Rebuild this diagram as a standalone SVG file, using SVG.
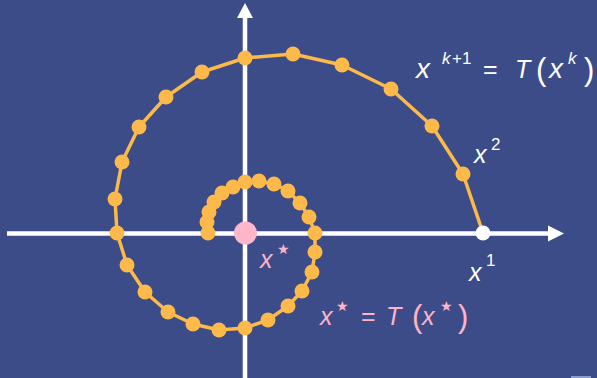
<svg xmlns="http://www.w3.org/2000/svg" width="597" height="378" viewBox="0 0 597 378">
<style>
.ax{stroke:#fff;stroke-width:4.5;fill:none}
.sp{stroke:#FDB94A;stroke-width:3.5;fill:none;stroke-linejoin:round}
.pt{fill:#FDB94A}
.t{font-family:"Liberation Sans","DejaVu Sans",sans-serif;font-size:25px;fill:#fff}
.i{font-style:italic}
.b{font-size:28px}
.s{font-size:17px}
.p{font-size:31px}
.pk{fill:#FFB3C6}
.st{font-size:14px;font-family:"DejaVu Sans",sans-serif}
</style>
<rect width="597" height="378" fill="#3C4C88"/>
<rect x="571" y="376" width="20" height="2" fill="#8F9BC8"/>
<g id="axes">
<line class="ax" x1="7" y1="233.5" x2="550" y2="233.5"/>
<polygon points="564,233.5 548,225.5 548,241.5" fill="#fff"/>
<line class="ax" x1="245" y1="378" x2="245" y2="16"/>
<polygon points="245,3 237,18 253,18" fill="#fff"/>
</g>
<g id="connectors">
<polyline class="sp" points="483,233 463,174 432,126 391,89 342,65 293,54 245,58 202,72 166,97 139,127 122,162 115,199 117,233 127,265 145,292 168,312 193,324 219,330 245,328 268,320 288,306 302,291 312,272 315,252 315,233 309,217 300,203 288,191 274,184 259,181 245,182 233,187 222,193 214,202 209,212 207,222 208,233"/>
</g>
<g id="points">
<circle class="pt" cx="463" cy="174" r="7.5"/>
<circle class="pt" cx="432" cy="126" r="7.5"/>
<circle class="pt" cx="391" cy="89" r="7.5"/>
<circle class="pt" cx="342" cy="65" r="7.5"/>
<circle class="pt" cx="293" cy="54" r="7.5"/>
<circle class="pt" cx="245" cy="58" r="7.5"/>
<circle class="pt" cx="202" cy="72" r="7.5"/>
<circle class="pt" cx="166" cy="97" r="7.5"/>
<circle class="pt" cx="139" cy="127" r="7.5"/>
<circle class="pt" cx="122" cy="162" r="7.5"/>
<circle class="pt" cx="115" cy="199" r="7.5"/>
<circle class="pt" cx="117" cy="233" r="7.5"/>
<circle class="pt" cx="127" cy="265" r="7.5"/>
<circle class="pt" cx="145" cy="292" r="7.5"/>
<circle class="pt" cx="168" cy="312" r="7.5"/>
<circle class="pt" cx="193" cy="324" r="7.5"/>
<circle class="pt" cx="219" cy="330" r="7.5"/>
<circle class="pt" cx="245" cy="328" r="7.5"/>
<circle class="pt" cx="268" cy="320" r="7.5"/>
<circle class="pt" cx="288" cy="306" r="7.5"/>
<circle class="pt" cx="302" cy="291" r="7.5"/>
<circle class="pt" cx="312" cy="272" r="7.5"/>
<circle class="pt" cx="315" cy="252" r="7.5"/>
<circle class="pt" cx="315" cy="233" r="7.5"/>
<circle class="pt" cx="309" cy="217" r="7.5"/>
<circle class="pt" cx="300" cy="203" r="7.5"/>
<circle class="pt" cx="288" cy="191" r="7.5"/>
<circle class="pt" cx="274" cy="184" r="7.5"/>
<circle class="pt" cx="259" cy="181" r="7.5"/>
<circle class="pt" cx="245" cy="182" r="7.5"/>
<circle class="pt" cx="233" cy="187" r="7.5"/>
<circle class="pt" cx="222" cy="193" r="7.5"/>
<circle class="pt" cx="214" cy="202" r="7.5"/>
<circle class="pt" cx="209" cy="212" r="7.5"/>
<circle class="pt" cx="207" cy="222" r="7.5"/>
<circle class="pt" cx="208" cy="233" r="7.5"/>
</g>
<g id="x1"><circle cx="483" cy="233" r="7.5" fill="#fff"/></g>
<g id="xstar"><circle cx="245.5" cy="233" r="11.5" fill="#FFB6C8"/></g>
<g id="label-iter">
<text class="t"><tspan class="i b" x="416" y="78">x</tspan><tspan class="i s" x="442" y="64">k</tspan><tspan class="s" x="452" y="64">+1</tspan><tspan x="483" y="78">=</tspan><tspan class="i" x="515" y="78">T</tspan><tspan class="p" x="536" y="80">(</tspan><tspan class="i b" x="549" y="78">x</tspan><tspan class="i s" x="568" y="64">k</tspan><tspan class="p" x="584" y="80">)</tspan></text>
</g>
<g id="label-x2"><text class="t"><tspan class="i" x="474" y="163">x</tspan><tspan class="s" x="491" y="150">2</tspan></text></g>
<g id="label-x1"><text class="t"><tspan class="i" x="469" y="281">x</tspan><tspan class="s" x="486" y="266">1</tspan></text></g>
<g id="label-xstar"><text class="t pk"><tspan class="i" x="260" y="268">x</tspan><tspan class="st" x="277" y="254">★</tspan></text></g>
<g id="label-fixed">
<text class="t pk"><tspan class="i" x="320" y="325">x</tspan><tspan class="st" x="336" y="311">★</tspan><tspan x="361" y="325">=</tspan><tspan class="i" x="386" y="325">T</tspan><tspan class="p" x="412" y="327">(</tspan><tspan class="i" x="422" y="325">x</tspan><tspan class="st" x="440" y="311">★</tspan><tspan class="p" x="458" y="327">)</tspan></text>
</g>
</svg>
